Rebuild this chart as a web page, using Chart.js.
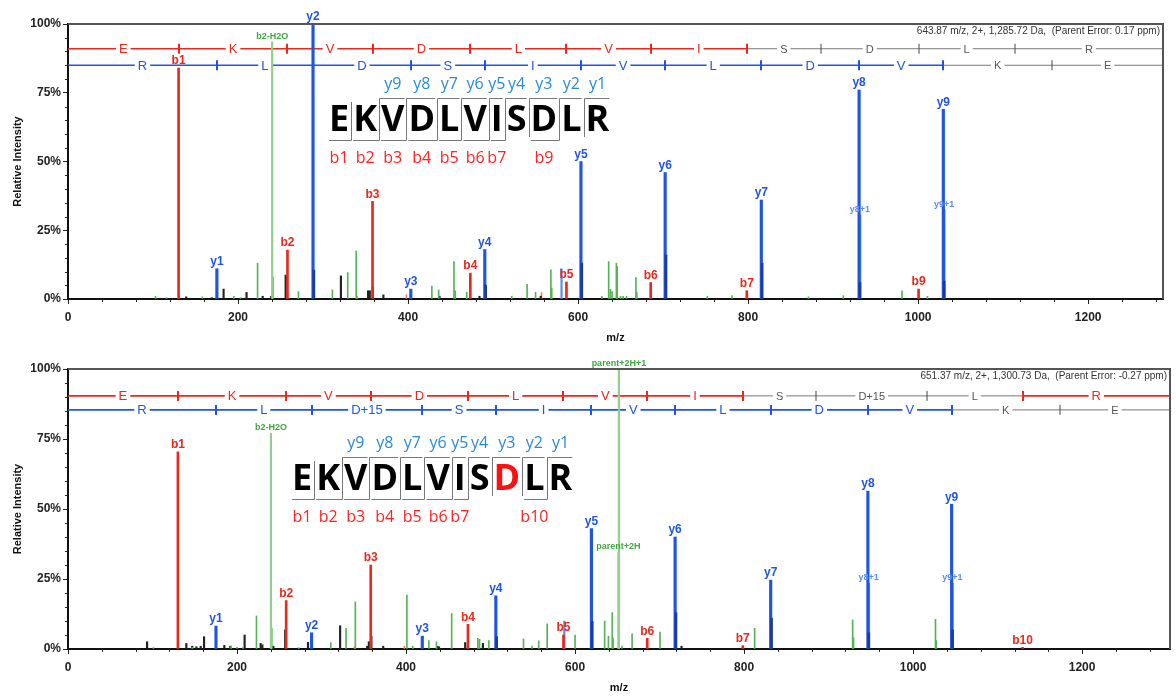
<!DOCTYPE html>
<html>
<head>
<meta charset="utf-8">
<title>EKVDLVISDLR spectra</title>
<script src="https://cdn.jsdelivr.net/npm/chart.js@4.4.0/dist/chart.umd.min.js"></script>
<style>
  html, body { margin: 0; padding: 0; background: #fff; }
  #wrap { position: relative; width: 1176px; height: 698px; }
  .box { position: absolute; left: 0; width: 1176px; }
  #topBox { top: 0; height: 346px; }
  #botBox { top: 346px; height: 352px; }
</style>
</head>
<body>
<div id="wrap">
  <div class="box" id="topBox"><canvas id="topChart" width="1176" height="346"></canvas></div>
  <div class="box" id="botBox"><canvas id="botChart" width="1176" height="352"></canvas></div>
</div>
<script>
// ---------- spectrum 1 : EKVDLVISDLR, 643.87 m/z ----------
const topXMax = 1288;
const topHeader = "643.87 m/z, 2+, 1,285.72 Da,  (Parent Error: 0.17 ppm)";
const topBMz = [130.05, 258.14, 358.21, 473.24, 586.32, 685.39, 798.47, 1000.50];
const topBInt = [84, 17.8, 35.5, 9.4, 6.2, 6, 3, 3.6];
const topBLabels = ["b1", "b2", "b3", "b4", "b5", "b6", "b7", "b9"];
const topYMz = [175.12, 288.20, 403.23, 490.26, 603.35, 702.41, 815.50, 930.52, 1029.59];
const topYInt = [11, 100, 3.6, 18, 50, 46, 36, 76, 69];
const topYLabels = ["y1", "y2", "y3", "y4", "y5", "y6", "y7", "y8", "y9"];
const topIsoMz = [931.53, 1030.60];
const topIsoInt = [30.5, 32.5];
const topIsoLabels = ["y8+1", "y9+1"];
const topDarkMz = [289.2, 491.27, 604.35, 703.42, 816.5, 931.6, 1030.7];
const topDarkInt = [10.5, 5, 13, 16, 13, 6, 6.5];
const topLightMz = [580.5];
const topLightInt = [11];
const topGreenLabMz = [240.13];
const topGreenLabInt = [93.5];
const topGreenLabels = ["b2-H2O"];
const topGreenMz = [103, 116, 158, 195, 203, 223, 241.1, 271, 311, 329, 339, 428, 436, 454, 455.5, 469, 522, 540, 550, 568,
  569, 628, 636, 638, 640, 645, 646, 650, 653, 657, 668, 669, 752, 781, 871, 912, 981, 1011];
const topGreenInt = [1, 0.5, 0.8, 1, 0.5, 13, 8, 2.7, 3.3, 9.6, 17.5, 4.7, 3.3, 13.6, 3, 2.4, 1, 5.3, 2.5, 10.6,
  4, 1, 13.6, 3.5, 2.7, 13, 11.8, 1, 1, 1, 7.8, 2.5, 1, 1.2, 0.8, 1.2, 3, 1];
const topBlackMz = [139, 169, 183, 210, 229, 239, 256, 321, 353, 355, 358.5, 371, 437, 484, 556];
const topBlackInt = [0.8, 0.5, 3.6, 2.4, 1, 1, 8.7, 8.4, 3, 3, 4.2, 1.5, 1, 1, 1];
const topRedMinorMz = [340, 398, 557];
const topRedMinorInt = [1, 1.5, 2.3];
// sequence ladders (fragment masses, residues between them, residue covered?)
const topBLadderMz = [130.05, 258.14, 358.21, 473.24, 586.32, 685.39, 798.47, 885.50, 1000.53, 1113.61];
const topBLadderRes = ["E", "K", "V", "D", "L", "V", "I", "S", "D", "L", "R"];
const topBSeen = [1, 1, 1, 1, 1, 1, 1, 0, 0, 0, 0];
const topYLadderMz = [175.12, 288.20, 403.23, 490.26, 603.35, 702.41, 815.50, 930.52, 1029.59, 1157.69];
const topYLadderRes = ["R", "L", "D", "S", "I", "V", "L", "D", "V", "K", "E"];
const topYSeen = [1, 1, 1, 1, 1, 1, 1, 1, 1, 0, 0];
// peptide graphic
const topSeq = ["E", "K", "V", "D", "L", "V", "I", "S", "D", "L", "R"];
const topSeqB = [1, 2, 3, 4, 5, 6, 7, 9];
const topSeqY = [9, 8, 7, 6, 5, 4, 3, 2, 1];

// ---------- spectrum 2 : EKVDLVISD(+15)LR, 651.37 m/z ----------
const botXMax = 1304;
const botHeader = "651.37 m/z, 2+, 1,300.73 Da,  (Parent Error: -0.27 ppm)";
const botBMz = [130.05, 258.14, 358.21, 473.24, 586.32, 685.39, 798.47, 1129.60];
const botBInt = [70.4, 17.3, 30, 8.8, 5, 3.8, 1.2, 0.6];
const botBLabels = ["b1", "b2", "b3", "b4", "b5", "b6", "b7", "b10"];
const botYMz = [175.12, 288.20, 419.22, 506.26, 619.34, 718.41, 831.49, 946.52, 1045.59];
const botYInt = [8.2, 5.8, 4.6, 19, 43, 40, 24.6, 56.4, 51.7];
const botYLabels = ["y1", "y2", "y3", "y4", "y5", "y6", "y7", "y8", "y9"];
const botIsoMz = [947.52, 1046.59];
const botIsoInt = [23.5, 23.5];
const botIsoLabels = ["y8+1", "y9+1"];
const botDarkMz = [507.27, 620.35, 719.42, 832.5, 947.6, 1046.7];
const botDarkInt = [4.4, 9.8, 13, 11, 5.8, 6.8];
const botLightMz = [587.3];
const botLightInt = [10];
const botGreenLabMz = [240.13, 651.37, 651.87];
const botGreenLabInt = [77, 34.6, 100];
const botGreenLabels = ["b2-H2O", "parent+2H", "parent+2H+1"];
const botGreenMz = [101, 147, 193, 200, 207, 223, 241.1, 273, 311, 329, 340, 401, 408, 427, 436, 454, 485, 487, 498, 539,
  549, 557, 567, 600, 635, 639.5, 644, 645, 655.5, 667.5, 700.5, 812.5, 928.5, 929.5, 1026.5, 1027.5];
const botGreenInt = [0.5, 0.5, 1, 0.6, 0.5, 11.8, 7.4, 0.5, 2.3, 7.4, 16.8, 19.3, 1, 3, 2.6, 12.7, 3.8, 3.5, 3, 3.6,
  1, 2.9, 9, 5, 10, 4.6, 13, 4, 1, 5.4, 6, 7.4, 10.4, 4, 10.6, 3];
const botBlackMz = [93.6, 140, 147, 152, 157, 161, 185, 192, 209, 228, 230, 243, 257, 284, 322, 354, 356, 359, 373, 437, 439, 470, 491, 726];
const botBlackInt = [2.6, 2, 1, 0.8, 1, 4.4, 1.3, 1, 5, 2, 1.5, 1, 6.8, 2.4, 8.3, 1, 2.6, 4.6, 1, 1, 0.8, 2.3, 2, 1];
const botRedMinorMz = [339, 398];
const botRedMinorInt = [0.8, 1];
const botBLadderMz = [130.05, 258.14, 358.21, 473.24, 586.32, 685.39, 798.47, 885.50, 1016.53, 1129.60];
const botBLadderRes = ["E", "K", "V", "D", "L", "V", "I", "S", "D+15", "L", "R"];
const botBSeen = [1, 1, 1, 1, 1, 1, 1, 0, 0, 0, 1];
const botYLadderMz = [175.12, 288.20, 419.22, 506.26, 619.34, 718.41, 831.49, 946.52, 1045.59, 1173.69];
const botYLadderRes = ["R", "L", "D+15", "S", "I", "V", "L", "D", "V", "K", "E"];
const botYSeen = [1, 1, 1, 1, 1, 1, 1, 1, 1, 0, 0];
const botSeq = ["E", "K", "V", "D", "L", "V", "I", "S", "D", "L", "R"];
const botSeqB = [1, 2, 3, 4, 5, 6, 7, 10];
const botSeqY = [9, 8, 7, 6, 5, 4, 3, 2, 1];
const botSeqMod = 8;

const RED = "#e8291c", BLUE = "#1f55e0", DARKBLUE = "#1b3b96", LIGHTBLUE = "#5b8def";
const GREEN = "#55b455", PALEGREEN = "#8fd08a", GRAY = "#777";
const tickFont = { family: "Arial", size: 12, weight: "bold" };

function sticks(mz, inten, color, width, order) {
    return {
        data: mz.map((m, i) => ({ x: m, y: inten[i] })),
        backgroundColor: color,
        borderWidth: 0,
        barThickness: width,
        grouped: false,
        order: order,
    };
}

function drawLadder(ctx, xs, ys, pos, res, seen, yVal, color, xMax) {
    const yy = ys.getPixelForValue(yVal);
    const bounds = [0].concat(pos, [xMax]);
    for (let i = 0; i < res.length; i++) {
        ctx.strokeStyle = seen[i] ? color : GRAY;
        ctx.lineWidth = seen[i] ? 1.6 : 1;
        ctx.beginPath();
        ctx.moveTo(xs.getPixelForValue(bounds[i]), yy);
        ctx.lineTo(xs.getPixelForValue(bounds[i + 1]), yy);
        ctx.stroke();
    }
    pos.forEach((m, i) => {
        const on = seen[i] || seen[i + 1];
        const px = Math.round(xs.getPixelForValue(m));
        ctx.strokeStyle = on ? color : "#444";
        ctx.lineWidth = on ? 2 : 1;
        ctx.beginPath();
        ctx.moveTo(px, yy - 5);
        ctx.lineTo(px, yy + 5);
        ctx.stroke();
    });
    ctx.textAlign = "center";
    ctx.textBaseline = "middle";
    res.forEach((r, i) => {
        const cx = (xs.getPixelForValue(bounds[i]) + xs.getPixelForValue(bounds[i + 1])) / 2;
        ctx.font = seen[i] ? "13px Arial" : "11px Arial";
        const w = ctx.measureText(r).width;
        ctx.fillStyle = "#fff";
        ctx.fillRect(cx - w / 2 - 3, yy - 6, w + 6, 12);
        ctx.fillStyle = seen[i] ? color : "#555";
        ctx.fillText(r, cx, yy + 1);
    });
}

function drawPeptide(ctx, seq, left, base, bObs, yObs, modIdx) {
    const gap = 4;
    ctx.font = 'bold 36px "Open Sans"';
    let cur = left;
    const boxes = seq.map((s) => {
        const w = ctx.measureText(s).width;
        const b = { l: cur, r: cur + w, c: cur + w / 2, w: w };
        cur += w + gap;
        return b;
    });
    const top = base - 33, bottom = base + 10;
    ctx.strokeStyle = "#777";
    ctx.lineWidth = 1;
    yObs.forEach((k) => {
        const b = boxes[seq.length - k];
        const xb = Math.round(b.l - gap / 2) + 0.5;
        ctx.beginPath();
        ctx.moveTo(xb, bottom - 4);
        ctx.lineTo(xb, top + 0.5);
        ctx.lineTo(b.r, top + 0.5);
        ctx.stroke();
    });
    bObs.forEach((k) => {
        const b = boxes[k - 1];
        const xb = Math.round(b.r + gap / 2) + 0.5;
        ctx.beginPath();
        ctx.moveTo(xb, top + 4);
        ctx.lineTo(xb, bottom - 0.5);
        ctx.lineTo(b.l, bottom - 0.5);
        ctx.stroke();
    });
    ctx.textAlign = "center";
    ctx.textBaseline = "alphabetic";
    seq.forEach((s, i) => {
        ctx.fillStyle = i === modIdx ? "#ff1010" : "#000";
        ctx.fillText(s, boxes[i].c, base);
    });
    ctx.font = '16px "Open Sans"';
    ctx.textBaseline = "middle";
    ctx.fillStyle = "#2a8ad4";
    yObs.forEach((k) => ctx.fillText("y" + k, boxes[seq.length - k].c, base - 47));
    ctx.fillStyle = "#f22";
    bObs.forEach((k) => ctx.fillText("b" + k, boxes[k - 1].c, base + 27));
}

function makeSpectrum(canvasId, s) {
    const labelGroups = [
        { mz: s.bMz, int: s.bInt, labels: s.bLabels, color: RED, font: "bold 12px Arial" },
        { mz: s.yMz, int: s.yInt, labels: s.yLabels, color: BLUE, font: "bold 12px Arial" },
        { mz: s.isoMz, int: s.isoInt, labels: s.isoLabels, color: LIGHTBLUE, font: "bold 9px Arial" },
        { mz: s.greenLabMz, int: s.greenLabInt, labels: s.greenLabels, color: "#3ea83e", font: "bold 9px Arial" },
    ];

    const spectrumPlugin = {
        id: "spectrumExtras",
        beforeDatasetsDraw(chart) {
            const { ctx, scales: { x, y } } = chart;
            ctx.save();
            drawLadder(ctx, x, y, s.bLadMz, s.bLadRes, s.bSeen, s.bLadY, RED, s.xMax);
            drawLadder(ctx, x, y, s.yLadMz, s.yLadRes, s.ySeen, s.yLadY, BLUE, s.xMax);
            ctx.restore();
        },
        afterDatasetsDraw(chart) {
            const { ctx, chartArea, scales: { x, y } } = chart;
            ctx.save();
            ctx.textAlign = "center";
            ctx.textBaseline = "bottom";
            labelGroups.forEach((g) => {
                ctx.font = g.font;
                ctx.fillStyle = g.color;
                g.mz.forEach((m, i) => {
                    ctx.fillText(g.labels[i], x.getPixelForValue(m), y.getPixelForValue(g.int[i]) - 1);
                });
            });
            // frame
            ctx.strokeStyle = "#555";
            ctx.lineWidth = 2;
            ctx.beginPath();
            ctx.moveTo(chartArea.left, chartArea.top);
            ctx.lineTo(chartArea.right, chartArea.top);
            ctx.lineTo(chartArea.right, chartArea.bottom);
            ctx.stroke();
            // minor ticks
            ctx.strokeStyle = "#222";
            ctx.lineWidth = 1;
            for (let v = 40; v <= s.xMax; v += 40) {
                if (v % 200 === 0) continue;
                const px = Math.round(x.getPixelForValue(v)) + 0.5;
                ctx.beginPath();
                ctx.moveTo(px, chartArea.bottom);
                ctx.lineTo(px, chartArea.bottom + 3);
                ctx.stroke();
            }
            for (let v = 5; v < 100; v += 5) {
                if (v % 25 === 0) continue;
                const py = Math.round(y.getPixelForValue(v)) + 0.5;
                ctx.beginPath();
                ctx.moveTo(chartArea.left - 3, py);
                ctx.lineTo(chartArea.left, py);
                ctx.stroke();
            }
            // header
            ctx.font = "10px Arial";
            ctx.fillStyle = "#333";
            ctx.textAlign = "right";
            ctx.textBaseline = "middle";
            ctx.fillText(s.header, chartArea.right - 3, chartArea.top + 7);
            drawPeptide(ctx, s.seq, s.seqLeft, s.seqBase, s.seqB, s.seqY, s.seqMod);
            ctx.restore();
        },
    };

    return new Chart(document.getElementById(canvasId), {
        type: "bar",
        data: {
            datasets: [
                sticks(s.darkMz, s.darkInt, DARKBLUE, 2, 0),
                sticks(s.yMz, s.yInt, BLUE, 2.5, 1),
                sticks(s.bMz, s.bInt, RED, 2, 2),
                sticks(s.isoMz, s.isoInt, LIGHTBLUE, 2, 3),
                sticks(s.lightMz, s.lightInt, LIGHTBLUE, 1.5, 3),
                sticks(s.greenLabMz, s.greenLabInt, PALEGREEN, 1.5, 4),
                sticks(s.greenMz, s.greenInt, GREEN, 1, 5),
                sticks(s.blackMz, s.blackInt, "#222", 1.5, 6),
                sticks(s.redMinorMz, s.redMinorInt, "#f07a6a", 1, 7),
            ],
        },
        options: {
            responsive: false,
            animation: false,
            events: [],
            layout: { padding: s.padding },
            plugins: { legend: { display: false }, tooltip: { enabled: false } },
            scales: {
                x: {
                    type: "linear",
                    min: 0,
                    max: s.xMax,
                    offset: false,
                    afterFit: (sc) => { sc.height = s.xAxisHeight; },
                    afterBuildTicks: (sc) => {
                        sc.ticks = [0, 200, 400, 600, 800, 1000, 1200].map((v) => ({ value: v }));
                    },
                    ticks: { font: tickFont, color: "#222", padding: 6, maxRotation: 0, autoSkip: false, callback: (v) => String(v) },
                    grid: { offset: false, drawOnChartArea: false, drawTicks: true, tickLength: 5, tickColor: "#222" },
                    border: { color: "#111", width: 2 },
                    title: { display: true, text: "m/z", font: { family: "Arial", size: 11, weight: "bold" }, color: "#111", padding: { top: 0, bottom: s.titlePad } },
                },
                y: {
                    min: 0,
                    max: 100,
                    afterFit: (sc) => { sc.width = 68; },
                    ticks: { stepSize: 25, font: tickFont, color: "#222", padding: 2, callback: (v) => v + "%" },
                    grid: { drawOnChartArea: false, drawTicks: true, tickLength: 5, tickColor: "#222" },
                    border: { color: "#111", width: 2 },
                    title: { display: true, text: "Relative Intensity", font: { family: "Arial", size: 11, weight: "bold" }, color: "#111", padding: { top: 11, bottom: 0 } },
                },
            },
        },
        plugins: [spectrumPlugin],
    });
}

makeSpectrum("topChart", {
    xMax: topXMax, header: topHeader,
    padding: { top: 24, right: 13, left: 0, bottom: 0 }, xAxisHeight: 47, titlePad: 1,
    bMz: topBMz, bInt: topBInt, bLabels: topBLabels,
    yMz: topYMz, yInt: topYInt, yLabels: topYLabels,
    isoMz: topIsoMz, isoInt: topIsoInt, isoLabels: topIsoLabels,
    darkMz: topDarkMz, darkInt: topDarkInt,
    lightMz: topLightMz, lightInt: topLightInt,
    greenLabMz: topGreenLabMz, greenLabInt: topGreenLabInt, greenLabels: topGreenLabels,
    greenMz: topGreenMz, greenInt: topGreenInt,
    blackMz: topBlackMz, blackInt: topBlackInt,
    redMinorMz: topRedMinorMz, redMinorInt: topRedMinorInt,
    bLadMz: topBLadderMz, bLadRes: topBLadderRes, bSeen: topBSeen, bLadY: 91,
    yLadMz: topYLadderMz, yLadRes: topYLadderRes, ySeen: topYSeen, yLadY: 85,
    seq: topSeq, seqB: topSeqB, seqY: topSeqY, seqMod: -1, seqLeft: 329, seqBase: 131,
});

makeSpectrum("botChart", {
    xMax: botXMax, header: botHeader,
    padding: { top: 23, right: 6, left: 0, bottom: 0 }, xAxisHeight: 49, titlePad: 3,
    bMz: botBMz, bInt: botBInt, bLabels: botBLabels,
    yMz: botYMz, yInt: botYInt, yLabels: botYLabels,
    isoMz: botIsoMz, isoInt: botIsoInt, isoLabels: botIsoLabels,
    darkMz: botDarkMz, darkInt: botDarkInt,
    lightMz: botLightMz, lightInt: botLightInt,
    greenLabMz: botGreenLabMz, greenLabInt: botGreenLabInt, greenLabels: botGreenLabels,
    greenMz: botGreenMz, greenInt: botGreenInt,
    blackMz: botBlackMz, blackInt: botBlackInt,
    redMinorMz: botRedMinorMz, redMinorInt: botRedMinorInt,
    bLadMz: botBLadderMz, bLadRes: botBLadderRes, bSeen: botBSeen, bLadY: 90.4,
    yLadMz: botYLadderMz, yLadRes: botYLadderRes, ySeen: botYSeen, yLadY: 85.4,
    seq: botSeq, seqB: botSeqB, seqY: botSeqY, seqMod: botSeqMod, seqLeft: 292, seqBase: 144,
});
</script>
</body>
</html>
